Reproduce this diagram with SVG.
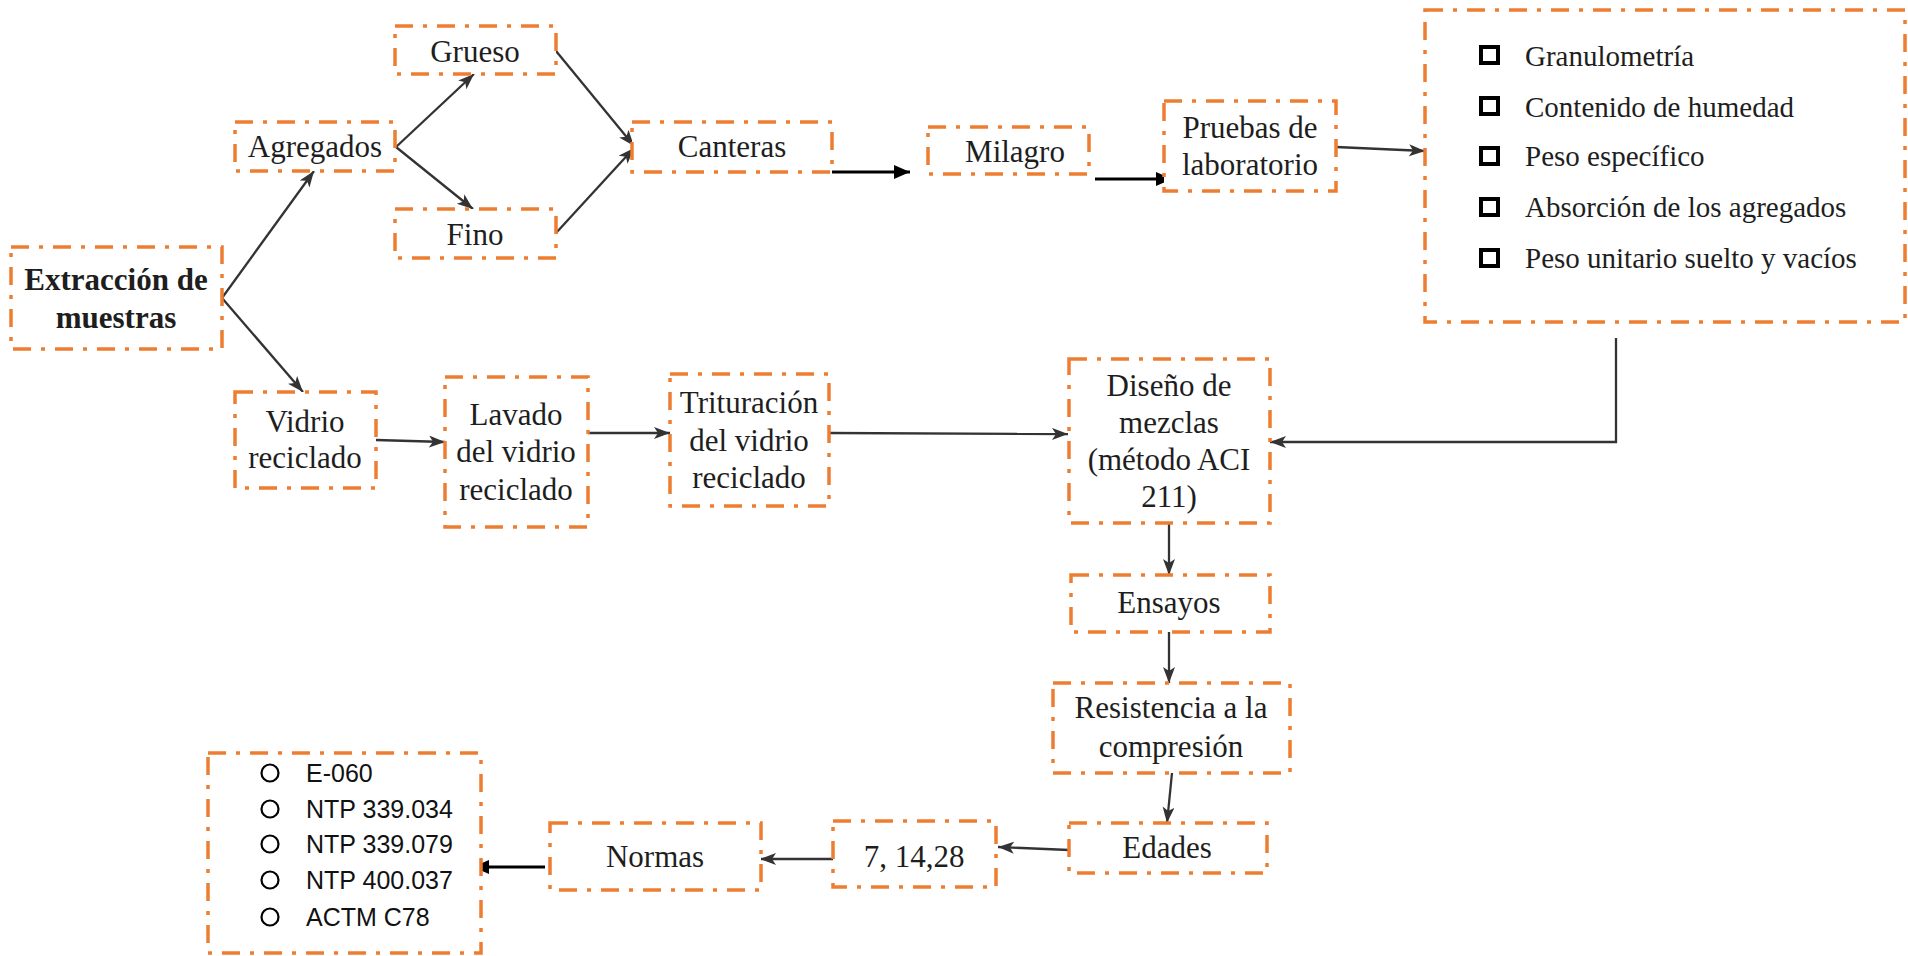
<svg xmlns="http://www.w3.org/2000/svg" width="1908" height="956" viewBox="0 0 1908 956">
<defs>
<style>
.box{fill:#fff;stroke:#ED7D31;stroke-width:3.5;stroke-dasharray:18 10 4 10}
.t{font-family:"Liberation Serif","Times New Roman",serif;font-size:31px;fill:#1e1e1e;text-anchor:middle}
.b{font-weight:bold}
.l{font-family:"Liberation Serif","Times New Roman",serif;font-size:29px;fill:#1e1e1e}
.s{font-family:"Liberation Sans",Arial,sans-serif;font-size:25px;fill:#111}
.g{fill:none;stroke:#333;stroke-width:2.3}
.k{fill:none;stroke:#000;stroke-width:3}
.sq{fill:none;stroke:#000;stroke-width:4}
.ci{fill:none;stroke:#000;stroke-width:2.2}
</style>
<marker id="ag" markerUnits="userSpaceOnUse" markerWidth="18" markerHeight="14" refX="16" refY="6" orient="auto">
<path d="M0,0 L16,6 L0,12 L4,6 z" fill="#333"/>
</marker>
<marker id="ak" markerUnits="userSpaceOnUse" markerWidth="18" markerHeight="16" refX="16" refY="7" orient="auto">
<path d="M0,0 L16,7 L0,14 z" fill="#000"/>
</marker>
</defs>
<rect width="1908" height="956" fill="#fff"/>
<g id="connectors">
<line class="g" x1="222" y1="298" x2="314" y2="171" marker-end="url(#ag)"/>
<line class="g" x1="222" y1="298" x2="303" y2="392" marker-end="url(#ag)"/>
<line class="g" x1="396" y1="147" x2="474" y2="74" marker-end="url(#ag)"/>
<line class="g" x1="396" y1="147" x2="473" y2="209" marker-end="url(#ag)"/>
<line class="g" x1="556" y1="51" x2="634" y2="146" marker-end="url(#ag)"/>
<line class="g" x1="556" y1="233" x2="634" y2="148" marker-end="url(#ag)"/>
<line class="k" x1="832" y1="172" x2="910" y2="172" marker-end="url(#ak)"/>
<line class="k" x1="1095" y1="179" x2="1172" y2="179" marker-end="url(#ak)"/>
<line class="g" x1="1336" y1="147" x2="1425" y2="151" marker-end="url(#ag)"/>
<polyline class="g" points="1616,338 1616,442 1270,442" marker-end="url(#ag)"/>
<line class="g" x1="376" y1="440" x2="445" y2="442" marker-end="url(#ag)"/>
<line class="g" x1="588" y1="433" x2="670" y2="433" marker-end="url(#ag)"/>
<line class="g" x1="829" y1="433" x2="1068" y2="434" marker-end="url(#ag)"/>
<line class="g" x1="1169" y1="523" x2="1169" y2="575" marker-end="url(#ag)"/>
<line class="g" x1="1169" y1="632" x2="1169" y2="683" marker-end="url(#ag)"/>
<line class="g" x1="1172" y1="773" x2="1167" y2="823" marker-end="url(#ag)"/>
<line class="g" x1="1069" y1="850" x2="998" y2="847" marker-end="url(#ag)"/>
<line class="g" x1="833" y1="859" x2="760" y2="859" marker-end="url(#ag)"/>
<line class="k" x1="545" y1="867" x2="473" y2="867" marker-end="url(#ak)"/>
</g>
<g id="extraccion">
<rect class="box" x="11" y="247" width="211" height="102"/>
<text class="t b" x="116" y="290">Extracción de</text>
<text class="t b" x="116" y="328">muestras</text>
</g>
<g id="agregados">
<rect class="box" x="235" y="122" width="160" height="49"/>
<text class="t" x="315" y="157">Agregados</text>
</g>
<g id="grueso">
<rect class="box" x="395" y="26" width="161" height="48"/>
<text class="t" x="475" y="62">Grueso</text>
</g>
<g id="fino">
<rect class="box" x="395" y="209" width="161" height="49"/>
<text class="t" x="475" y="245">Fino</text>
</g>
<g id="canteras">
<rect class="box" x="632" y="122" width="200" height="50"/>
<text class="t" x="732" y="157">Canteras</text>
</g>
<g id="milagro">
<rect class="box" x="928" y="127" width="161" height="47"/>
<text class="t" x="1015" y="162">Milagro</text>
</g>
<g id="pruebas">
<rect class="box" x="1164" y="101" width="172" height="90"/>
<text class="t" x="1250" y="138">Pruebas de</text>
<text class="t" x="1250" y="175">laboratorio</text>
</g>
<g id="ensayos-lab">
<rect class="box" x="1425" y="10" width="480" height="312"/>
<rect class="sq" x="1481" y="47" width="17" height="16"/>
<rect class="sq" x="1481" y="98" width="17" height="16"/>
<rect class="sq" x="1481" y="148" width="17" height="16"/>
<rect class="sq" x="1481" y="199" width="17" height="16"/>
<rect class="sq" x="1481" y="250" width="17" height="16"/>
<text class="l" x="1525" y="66">Granulometría</text>
<text class="l" x="1525" y="117">Contenido de humedad</text>
<text class="l" x="1525" y="166">Peso específico</text>
<text class="l" x="1525" y="217">Absorción de los agregados</text>
<text class="l" x="1525" y="268">Peso unitario suelto y vacíos</text>
</g>
<g id="vidrio">
<rect class="box" x="235" y="392" width="141" height="96"/>
<text class="t" x="305" y="432">Vidrio</text>
<text class="t" x="305" y="468">reciclado</text>
</g>
<g id="lavado">
<rect class="box" x="445" y="377" width="143" height="150"/>
<text class="t" x="516" y="425">Lavado</text>
<text class="t" x="516" y="462">del vidrio</text>
<text class="t" x="516" y="500">reciclado</text>
</g>
<g id="trituracion">
<rect class="box" x="670" y="374" width="159" height="132"/>
<text class="t" x="749" y="413">Trituración</text>
<text class="t" x="749" y="451">del vidrio</text>
<text class="t" x="749" y="488">reciclado</text>
</g>
<g id="diseno">
<rect class="box" x="1069" y="359" width="201" height="164"/>
<text class="t" x="1169" y="396">Diseño de</text>
<text class="t" x="1169" y="433">mezclas</text>
<text class="t" x="1169" y="470">(método ACI</text>
<text class="t" x="1169" y="507">211)</text>
</g>
<g id="ensayos">
<rect class="box" x="1071" y="575" width="199" height="57"/>
<text class="t" x="1169" y="613">Ensayos</text>
</g>
<g id="resistencia">
<rect class="box" x="1053" y="683" width="237" height="90"/>
<text class="t" x="1171" y="718">Resistencia a la</text>
<text class="t" x="1171" y="757">compresión</text>
</g>
<g id="edades">
<rect class="box" x="1069" y="823" width="198" height="50"/>
<text class="t" x="1167" y="858">Edades</text>
</g>
<g id="dias">
<rect class="box" x="833" y="821" width="163" height="66"/>
<text class="t" x="914" y="867">7, 14,28</text>
</g>
<g id="normas">
<rect class="box" x="550" y="823" width="211" height="67"/>
<text class="t" x="655" y="867">Normas</text>
</g>
<g id="lista-normas">
<rect class="box" x="208" y="753" width="273" height="200"/>
<circle class="ci" cx="270" cy="773" r="8.5"/>
<circle class="ci" cx="270" cy="809" r="8.5"/>
<circle class="ci" cx="270" cy="844" r="8.5"/>
<circle class="ci" cx="270" cy="880" r="8.5"/>
<circle class="ci" cx="270" cy="917" r="8.5"/>
<text class="s" x="306" y="782">E-060</text>
<text class="s" x="306" y="818">NTP 339.034</text>
<text class="s" x="306" y="853">NTP 339.079</text>
<text class="s" x="306" y="889">NTP 400.037</text>
<text class="s" x="306" y="926">ACTM C78</text>
</g>
</svg>
